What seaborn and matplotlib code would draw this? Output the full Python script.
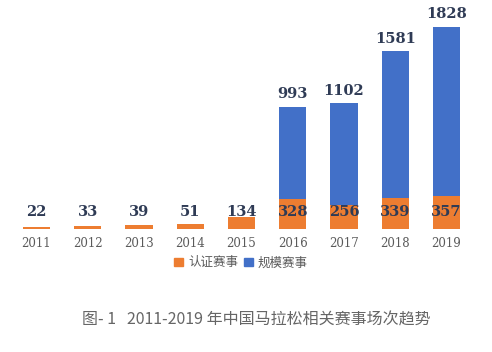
import pandas as pd
import matplotlib.pyplot as plt
import seaborn as sns
from matplotlib.patches import Patch

sns.set_style("white")
plt.rcParams['font.family'] = ['Noto Sans CJK SC', 'DejaVu Sans']

years = ['2011', '2012', '2013', '2014', '2015', '2016', '2017', '2018', '2019']
certified = [22, 33, 39, 51, 134, 328, 256, 339, 357]
scale = [0, 0, 0, 0, 0, 993, 1102, 1581, 1828]

orange = '#ED7D31'
blue = '#4270C8'
label_color = '#2F3B55'

df = pd.DataFrame({'year': years, 'certified': certified, 'scale': scale})

fig = plt.figure(figsize=(4.92, 3.52), dpi=100)
ax = fig.add_axes([0.0, 0.3494, 1.0, 0.6305])

sns.barplot(data=df, x='year', y='certified', color=orange, width=0.53,
            saturation=1, linewidth=0, ax=ax)
sns.barplot(data=df, x='year', y='scale', color=blue, width=0.53,
            saturation=1, linewidth=0, bottom=df['certified'].values, ax=ax)

ax.set_xlim(-0.712, 8.888)
ax.set_ylim(0, 2400)
ax.set_xlabel('')
ax.set_ylabel('')
ax.set_yticks([])
for s in ax.spines.values():
    s.set_visible(False)
ax.tick_params(axis='x', length=0, pad=6, labelsize=8.5, labelcolor='#5A5A5A')
for t in ax.get_xticklabels():
    t.set_fontfamily('DejaVu Serif')

# numbers near the baseline (orange series)
for i, v in enumerate(certified):
    ax.annotate(str(v), (i, 0), xytext=(0, 12), textcoords='offset points',
                ha='center', va='center', fontsize=10.5, fontweight='bold',
                color=label_color, family='DejaVu Serif')

# numbers above the stacked bars (blue series)
for i, v in enumerate(scale):
    if v > 0:
        ax.annotate(str(v), (i, v + certified[i]), xytext=(0, 4),
                    textcoords='offset points', ha='center', va='bottom',
                    fontsize=10.5, fontweight='bold', color=label_color,
                    family='DejaVu Serif')

handles = [Patch(color=orange, label='认证赛事'), Patch(color=blue, label='规模赛事')]
fig.legend(handles=handles, loc='center', bbox_to_anchor=(0.49, 0.253), ncol=2,
           frameon=False, fontsize=9, handlelength=0.7, handleheight=0.7,
           handletextpad=0.4, columnspacing=0.5, labelcolor='#5A5A5A')

fig.text(0.52, 0.09, '图- 1   2011-2019 年中国马拉松相关赛事场次趋势', ha='center',
         va='center', fontsize=11.5, color='#666666')

fig.savefig('out.png', dpi=100)
